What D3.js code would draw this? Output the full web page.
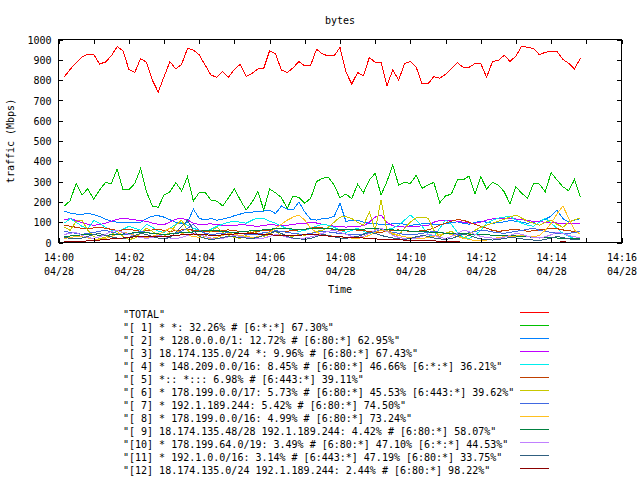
<!DOCTYPE html>
<html><head><meta charset="utf-8">
<script src="https://cdn.jsdelivr.net/npm/d3@7"></script>
<style>
html,body{margin:0;padding:0;background:#fff;}
svg{display:block;}
text{font-family:"DejaVu Sans Mono","Liberation Mono",monospace;font-size:10px;fill:#000;white-space:pre;}
</style></head><body>
<svg id="chart" width="640" height="480"></svg>
<script>
// ---- data ----
const startTime = new Date(2000, 3, 28, 14, 0, 10);
const stepSeconds = 10;
const yTicks = [0,100,200,300,400,500,600,700,800,900,1000];
const chartTitle = "bytes";
const yLabel = "traffic (Mbps)";
const xLabel = "Time";

const legendLabels = [
  '"TOTAL"',
  '"[ 1] * *: 32.26% # [6:*:*] 67.30%"',
  '"[ 2] * 128.0.0.0/1: 12.72% # [6:80:*] 62.95%"',
  '"[ 3] 18.174.135.0/24 *: 9.96% # [6:80:*] 67.43%"',
  '"[ 4] * 148.209.0.0/16: 8.45% # [6:80:*] 46.66% [6:*:*] 36.21%"',
  '"[ 5] *:: *::: 6.98% # [6:443:*] 39.11%"',
  '"[ 6] * 178.199.0.0/17: 5.73% # [6:80:*] 45.53% [6:443:*] 39.62%"',
  '"[ 7] * 192.1.189.244: 5.42% # [6:80:*] 74.50%"',
  '"[ 8] * 178.199.0.0/16: 4.99% # [6:80:*] 73.24%"',
  '"[ 9] 18.174.135.48/28 192.1.189.244: 4.42% # [6:80:*] 58.07%"',
  '"[10] * 178.199.64.0/19: 3.49% # [6:80:*] 47.10% [6:*:*] 44.53%"',
  '"[11] * 192.1.0.0/16: 3.14% # [6:443:*] 47.19% [6:80:*] 33.75%"',
  '"[12] 18.174.135.0/24 192.1.189.244: 2.44% # [6:80:*] 98.22%"'
];
const colors = ["#ff0000","#00c000","#0080ff","#c000ff","#00eeee","#c04000","#c8c800","#4169e1","#ffc020","#008040","#c080ff","#306080","#8b0000"];

const total = [817,853,886,915,927,927,879,889,919,965, 945,853,838,906,888,800,741,817,891,855,
  878,956,948,924,874,825,814,842,814,853, 878,817,833,855,858,945,929,850,837,861,
  891,869,874,952,929,919,919,961,840,781, 837,822,911,888,888,771,851,800,881,892,
  863,782,781,817,809,828,858,886,863,863, 881,881,814,891,897,922,892,919,968,961,
  956,925,937,942,942,902,883,855,909];
const s01 = [180,206,291,234,265,213,259,295,291,362, 259,259,291,364,250,180,173,234,250,295,
  254,324,204,247,247,209,204,180,221,265, 209,160,198,250,160,264,245,222,168,229,
  221,193,218,300,316,321,283,220,239,216, 287,245,308,341,234,300,382,283,296,291,
  331,267,283,296,196,229,239,308,308,328, 239,324,264,296,283,250,190,275,242,218,
  291,288,250,344,308,275,255,311,222];
const s02 = [155,145,140,137,145,137,128,115,105,100, 100,98,97,100,118,130,132,125,112,100,
  92,98,165,118,112,118,110,115,122,132, 140,148,150,152,155,160,142,180,165,160,
  200,150,115,110,118,120,128,193,105,108, 110,100,95,92,90,88,92,95,90,85,
  88,92,95,90,88,92,98,102,95,90, 98,105,100,95,98,102,108,105,100,95,
  100,105,115,130,160,118,100,110,118];
const s03 = [112,118,108,98,90,85,88,95,105,115, 118,116,112,108,104,96,90,88,100,115,
  118,112,95,88,90,92,88,85,82,84, 88,86,82,80,84,88,86,82,85,90,
  92,95,98,96,90,85,80,78,76,78, 80,82,100,125,135,100,82,78,76,78,
  80,82,84,100,108,110,108,105,100,96, 95,100,110,116,118,119,118,116,112,108,
  104,102,100,98,96,95,94,92,94];
const s04 = [95,118,100,80,70,108,95,75,60,55, 65,80,70,60,90,75,55,50,70,90,
  100,85,70,60,55,65,80,90,100,105, 100,95,110,120,118,105,95,80,70,60,
  55,60,70,80,90,85,75,60,50,60, 70,55,45,50,60,65,70,85,110,135,
  110,80,40,28,70,110,90,50,25,20, 35,60,95,110,120,125,128,110,95,85,
  80,100,120,95,70,45,30,20,25];
const s05 = [85,80,75,70,68,72,75,70,65,60, 62,65,60,55,58,62,65,60,55,58,
  62,65,60,58,55,52,55,60,62,58, 55,52,50,55,60,58,55,52,55,60,
  62,65,70,75,72,68,65,60,62,65, 60,58,55,52,50,55,60,62,58,55,
  55,58,62,70,85,95,105,112,110,100, 90,80,70,60,55,58,62,65,60,55,
  58,62,65,70,68,62,58,55,52];
const s06 = [75,60,105,110,60,30,20,25,40,55, 30,15,20,45,70,55,35,30,50,85,
  110,60,40,35,30,55,75,50,35,25, 20,35,60,45,30,40,55,35,25,30,
  40,35,45,55,60,75,100,125,128,118, 100,85,150,60,210,60,40,35,70,100,
  122,125,120,60,30,45,55,35,20,40, 60,75,85,95,105,115,125,136,120,105,
  95,85,100,110,90,75,100,112,122];
const s07 = [55,50,45,40,45,50,55,60,52,45, 40,42,48,55,50,45,40,38,42,48,
  55,70,90,60,45,40,42,45,50,48, 45,40,38,42,48,52,58,55,50,45,
  42,40,45,50,55,52,48,45,42,40, 38,42,48,55,60,55,50,45,40,38,
  40,45,50,55,50,45,40,38,42,48, 55,60,58,52,48,45,50,55,60,65,
  70,60,55,50,45,42,45,50,55];
const s08 = [20,25,30,28,22,18,15,20,30,40, 50,45,35,28,25,30,40,55,70,60,
  45,35,30,25,22,20,25,35,45,40, 35,30,25,28,35,50,70,90,110,125,
  135,110,70,50,40,35,30,28,25,22, 20,25,35,50,60,55,45,35,28,25,
  22,20,25,30,40,45,40,30,22,15, 10,8,12,18,25,28,30,32,35,30,
  28,35,60,95,140,180,120,60,40];
const s09 = [30,32,35,38,40,38,36,35,38,40, 42,45,48,50,48,45,42,40,42,45,
  48,50,52,55,58,60,58,55,52,50, 52,55,58,60,62,65,68,70,68,66,
  65,66,68,70,70,68,66,65,64,64, 65,66,68,68,66,64,62,60,58,56,
  55,54,52,50,48,46,45,44,42,42, 40,40,38,36,35,34,33,32,30,28,
  26,25,24,24,22,22,20,20,20];
const s10 = [40,45,50,35,25,20,28,40,55,60, 50,40,30,25,20,25,35,30,22,18,
  25,35,45,40,30,22,18,20,28,35, 30,25,20,18,22,30,40,35,25,20,
  18,22,28,35,45,55,60,50,40,30, 25,30,45,60,70,55,35,25,20,18,
  22,30,40,35,25,20,30,45,60,55, 40,30,25,22,20,25,35,45,40,30,
  25,22,28,38,50,45,35,28,25];
const s11 = [25,20,18,22,30,40,45,35,28,22, 20,25,35,45,40,30,22,18,25,50,
  80,110,60,30,20,15,18,25,30,28, 25,22,20,25,35,45,55,45,30,22,
  18,15,20,30,40,35,28,22,20,25, 30,40,50,45,35,28,22,18,15,20,
  28,35,30,22,18,15,20,30,40,35, 25,18,15,12,15,20,25,22,18,15,
  12,10,15,22,30,25,18,15,12];
const s12 = [5,4,5,6,8,10,12,15,18,20, 22,25,28,30,32,30,28,30,32,35,
  38,40,42,40,38,36,35,38,40,42, 44,45,44,42,40,38,36,35,34,35,
  36,38,40,38,35,32,30,28,26,25, 24,22,20,18,16,15,14,13,12,12,
  10,9,8,8,6,5,4,3,2,2, 1,1,0,0,1,0,0,1,0,0,
  0,1,0,0,2,3,2,1,0];

const seriesValues = [total,s01,s02,s03,s04,s05,s06,s07,s08,s09,s10,s11,s12];

// ---- build ----
const times = total.map((_, i) => new Date(startTime.getTime() + i * stepSeconds * 1000));
const svg = d3.select("#chart");
const L = 58.5, R = 621.5, T = 39.5, B = 242.5;
const x = d3.scaleTime()
  .domain([new Date(2000,3,28,14,0,0), new Date(2000,3,28,14,16,0)])
  .range([L, R]);
const y = d3.scaleLinear().domain([0, 1000]).range([B, T]);

const minuteTicks = x.ticks(d3.timeMinute.every(1));
const fmtHM = d3.timeFormat("%H:%M"), fmtMD = d3.timeFormat("%m/%d");
const tickLen = 4.5;

// data lines
const line = d3.line().x((d, i) => x(times[i])).y(d => y(d));
const lines = svg.append("g");
seriesValues.forEach((vals, k) => {
  lines.append("path")
    .datum(vals)
    .attr("d", line)
    .attr("fill", "none")
    .attr("stroke", colors[k])
    .attr("stroke-width", 1)
    .attr("shape-rendering", "crispEdges");
});

// axes
const styleAxis = g => {
  g.attr("font-family", null).attr("font-size", null);
  g.select(".domain").remove();
  g.selectAll(".tick line").attr("stroke", "#000").attr("shape-rendering", "crispEdges");
};
const xb = svg.append("g").attr("transform", `translate(0,${B})`)
  .call(d3.axisBottom(x).tickValues(minuteTicks).tickSize(-tickLen).tickSizeOuter(0)
    .tickFormat(d => d.getMinutes() % 2 === 0 ? fmtHM(d) : ""))
  .call(styleAxis);
xb.selectAll(".tick text").each(function(d) {
  const t = d3.select(this);
  t.attr("y", null).attr("dy", null).text(null);
  if (d.getMinutes() % 2 !== 0) return;
  t.append("tspan").attr("x", 0).attr("y", 18).text(fmtHM(d));
  t.append("tspan").attr("x", 0).attr("y", 32).text(fmtMD(d));
});
svg.append("g").attr("transform", `translate(0,${T})`)
  .call(d3.axisTop(x).tickValues(minuteTicks).tickSize(-tickLen).tickSizeOuter(0).tickFormat(""))
  .call(styleAxis);
svg.append("g").attr("transform", `translate(${L},0)`)
  .call(d3.axisLeft(y).tickValues(yTicks).tickSize(-tickLen).tickSizeOuter(0).tickPadding(7)
    .tickFormat(d3.format("d")))
  .call(styleAxis)
  .selectAll(".tick text").attr("dy", "0.36em");
svg.append("g").attr("transform", `translate(${R},0)`)
  .call(d3.axisRight(y).tickValues(yTicks).tickSize(-tickLen).tickSizeOuter(0).tickFormat(""))
  .call(styleAxis);

// border
svg.append("rect").attr("x", L).attr("y", T).attr("width", R - L).attr("height", B - T)
  .attr("fill", "none").attr("stroke", "#000").attr("shape-rendering", "crispEdges");

// titles
svg.append("text").attr("x", (L + R) / 2).attr("y", 23.5).attr("text-anchor", "middle").text(chartTitle);
svg.append("text").attr("x", (L + R) / 2).attr("y", 293).attr("text-anchor", "middle").text(xLabel);
svg.append("text").attr("transform", `translate(14,${(T + B) / 2}) rotate(-90)`)
  .attr("text-anchor", "middle").text(yLabel);

// legend
const leg = svg.append("g");
legendLabels.forEach((lab, k) => {
  const yy = 312.5 + 13 * k;
  leg.append("text").attr("x", 123).attr("y", yy + 5.5).text(lab);
  leg.append("line").attr("x1", 520).attr("x2", 549).attr("y1", yy).attr("y2", yy)
    .attr("stroke", colors[k]).attr("shape-rendering", "crispEdges");
});
</script>
</body></html>
